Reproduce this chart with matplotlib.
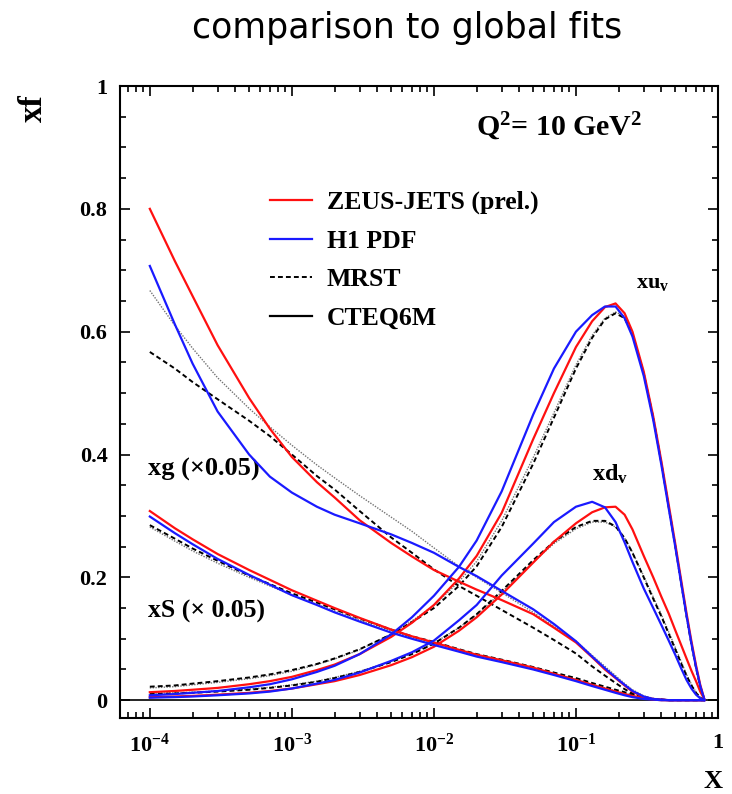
#!/usr/bin/env python
# -*- coding: utf-8 -*-
"""
Parton densities xf(x) at Q^2 = 10 GeV^2: ZEUS-JETS / H1 PDF vs. MRST and CTEQ6M.
Values read off the reference picture.
"""

import matplotlib

matplotlib.use("Agg")  # headless
import matplotlib.pyplot as plt
from matplotlib.lines import Line2D
from matplotlib.ticker import LogLocator, MultipleLocator, NullFormatter

plt.rcParams["font.family"] = ["Liberation Serif", "DejaVu Serif"]
plt.rcParams["font.weight"] = "bold"
plt.rcParams["mathtext.fontset"] = "custom"
plt.rcParams["mathtext.rm"] = "Liberation Serif:bold"
plt.rcParams["mathtext.it"] = "Liberation Serif:bold"
plt.rcParams["mathtext.bf"] = "Liberation Serif:bold"

# x grid shared by all curves
X = [1e-4, 1.5e-4, 2e-4, 3e-4, 5e-4, 7e-4, 1e-3, 1.5e-3, 2e-3, 3e-3, 5e-3, 7e-3,
     1e-2, 1.5e-2, 2e-2, 3e-2, 5e-2, 7e-2, 0.1, 0.13, 0.16, 0.19, 0.22, 0.25,
     0.3, 0.35, 0.4, 0.45, 0.5, 0.55, 0.6, 0.65, 0.7, 0.75, 0.8]

# xu_v
XUV_ZEUS = [0.013, 0.015, 0.017, 0.020, 0.026, 0.031, 0.038, 0.049, 0.058, 0.075, 0.103, 0.126,
            0.155, 0.198, 0.235, 0.305, 0.425, 0.50, 0.575, 0.617, 0.640, 0.646, 0.630, 0.600,
            0.535, 0.462, 0.388, 0.318, 0.255, 0.196, 0.142, 0.096, 0.057, 0.025, 0.002]
XUV_H1 = [0.008, 0.010, 0.012, 0.015, 0.021, 0.026, 0.034, 0.046, 0.056, 0.075, 0.107, 0.135,
          0.170, 0.217, 0.260, 0.340, 0.465, 0.540, 0.600, 0.627, 0.641, 0.641, 0.622, 0.592,
          0.528, 0.456, 0.382, 0.312, 0.250, 0.191, 0.138, 0.092, 0.054, 0.023, 0.002]
XUV_MRST = [0.022, 0.024, 0.027, 0.031, 0.037, 0.042, 0.049, 0.059, 0.068, 0.083, 0.107, 0.127,
            0.150, 0.186, 0.218, 0.282, 0.385, 0.460, 0.540, 0.590, 0.620, 0.630, 0.622, 0.596,
            0.532, 0.460, 0.385, 0.314, 0.251, 0.191, 0.137, 0.091, 0.053, 0.022, 0.002]
XUV_CTEQ = [0.020, 0.022, 0.025, 0.029, 0.035, 0.040, 0.047, 0.058, 0.067, 0.082, 0.108, 0.129,
            0.154, 0.193, 0.226, 0.292, 0.395, 0.468, 0.546, 0.594, 0.622, 0.632, 0.625, 0.598,
            0.533, 0.460, 0.385, 0.314, 0.251, 0.191, 0.137, 0.091, 0.053, 0.022, 0.002]

# xd_v
XDV_ZEUS = [0.005, 0.006, 0.007, 0.009, 0.012, 0.015, 0.019, 0.026, 0.031, 0.041, 0.057, 0.070,
            0.087, 0.113, 0.135, 0.172, 0.224, 0.258, 0.288, 0.306, 0.314, 0.315, 0.302, 0.278,
            0.235, 0.200, 0.168, 0.141, 0.114, 0.090, 0.068, 0.048, 0.031, 0.014, 0.002]
XDV_H1 = [0.004, 0.005, 0.006, 0.008, 0.011, 0.014, 0.019, 0.027, 0.033, 0.045, 0.064, 0.078,
          0.097, 0.130, 0.155, 0.203, 0.255, 0.290, 0.315, 0.323, 0.314, 0.290, 0.257, 0.225,
          0.182, 0.150, 0.122, 0.097, 0.074, 0.052, 0.033, 0.019, 0.009, 0.003, 0.000]
XDV_MRST = [0.010, 0.011, 0.012, 0.014, 0.017, 0.020, 0.024, 0.030, 0.036, 0.046, 0.062, 0.075,
            0.092, 0.118, 0.140, 0.178, 0.228, 0.258, 0.282, 0.292, 0.292, 0.283, 0.264, 0.240,
            0.200, 0.165, 0.136, 0.108, 0.083, 0.060, 0.040, 0.024, 0.012, 0.004, 0.000]
XDV_CTEQ = [0.011, 0.012, 0.013, 0.015, 0.018, 0.021, 0.025, 0.031, 0.037, 0.047, 0.063, 0.076,
            0.093, 0.118, 0.139, 0.176, 0.225, 0.255, 0.279, 0.290, 0.290, 0.282, 0.264, 0.241,
            0.202, 0.168, 0.139, 0.111, 0.086, 0.063, 0.042, 0.026, 0.013, 0.005, 0.000]

# xS (x 0.05)
XS_ZEUS = [0.308, 0.280, 0.262, 0.238, 0.212, 0.196, 0.179, 0.162, 0.150, 0.134, 0.115, 0.104,
           0.094, 0.082, 0.074, 0.065, 0.053, 0.043, 0.033, 0.025, 0.019, 0.014, 0.010, 0.007,
           0.003, 0.001, 0.0, 0.0, 0.0, 0.0, 0.0, 0.0, 0.0, 0.0, 0.0]
XS_H1 = [0.299, 0.272, 0.254, 0.230, 0.204, 0.188, 0.171, 0.155, 0.143, 0.128, 0.110, 0.100,
         0.090, 0.079, 0.071, 0.062, 0.050, 0.041, 0.031, 0.023, 0.017, 0.012, 0.008, 0.005,
         0.002, 0.001, 0.0, 0.0, 0.0, 0.0, 0.0, 0.0, 0.0, 0.0, 0.0]
XS_MRST = [0.285, 0.263, 0.247, 0.227, 0.203, 0.189, 0.174, 0.159, 0.148, 0.133, 0.115, 0.104,
           0.095, 0.083, 0.075, 0.066, 0.054, 0.045, 0.036, 0.028, 0.022, 0.017, 0.013, 0.009,
           0.005, 0.002, 0.001, 0.0, 0.0, 0.0, 0.0, 0.0, 0.0, 0.0, 0.0]
XS_CTEQ = [0.282, 0.259, 0.243, 0.223, 0.200, 0.186, 0.171, 0.156, 0.145, 0.130, 0.113, 0.102,
           0.093, 0.081, 0.073, 0.064, 0.052, 0.043, 0.034, 0.026, 0.020, 0.015, 0.011, 0.008,
           0.004, 0.002, 0.001, 0.0, 0.0, 0.0, 0.0, 0.0, 0.0, 0.0, 0.0]

# xg (x 0.05)
XG_ZEUS = [0.800, 0.715, 0.658, 0.578, 0.492, 0.442, 0.396, 0.355, 0.330, 0.293, 0.256, 0.234,
           0.212, 0.193, 0.180, 0.163, 0.140, 0.118, 0.094, 0.070, 0.050, 0.036, 0.024, 0.014,
           0.005, 0.002, 0.001, 0.0, 0.0, 0.0, 0.0, 0.0, 0.0, 0.0, 0.0]
XG_H1 = [0.707, 0.612, 0.548, 0.470, 0.400, 0.364, 0.338, 0.315, 0.302, 0.288, 0.270, 0.256,
         0.240, 0.217, 0.202, 0.178, 0.148, 0.124, 0.096, 0.071, 0.052, 0.037, 0.025, 0.015,
         0.006, 0.002, 0.001, 0.0, 0.0, 0.0, 0.0, 0.0, 0.0, 0.0, 0.0]
XG_MRST = [0.567, 0.540, 0.518, 0.490, 0.455, 0.430, 0.400, 0.365, 0.343, 0.308, 0.265, 0.240,
           0.213, 0.186, 0.170, 0.147, 0.118, 0.098, 0.076, 0.055, 0.040, 0.028, 0.018, 0.011,
           0.005, 0.002, 0.001, 0.0, 0.0, 0.0, 0.0, 0.0, 0.0, 0.0, 0.0]
XG_CTEQ = [0.667, 0.610, 0.573, 0.525, 0.475, 0.445, 0.415, 0.383, 0.362, 0.333, 0.298, 0.275,
           0.248, 0.218, 0.200, 0.175, 0.143, 0.120, 0.096, 0.073, 0.055, 0.040, 0.027, 0.017,
           0.007, 0.003, 0.001, 0.0, 0.0, 0.0, 0.0, 0.0, 0.0, 0.0, 0.0]

X_TICKS = [1e-4, 1e-3, 1e-2, 1e-1, 1.0]
X_TICK_LABELS = [r"$10^{-4}$", r"$10^{-3}$", r"$10^{-2}$", r"$10^{-1}$", "1"]
Y_TICKS = [0, 0.2, 0.4, 0.6, 0.8, 1.0]
Y_TICK_LABELS = ["0", "0.2", "0.4", "0.6", "0.8", "1"]

LEGEND_LABELS = ["ZEUS-JETS (prel.)", "H1 PDF", "MRST", "CTEQ6M"]

STYLES = {
    "ZEUS": dict(color="#ff1010", linewidth=1.6, linestyle="-"),
    "H1": dict(color="#1a1aff", linewidth=1.6, linestyle="-"),
    "MRST": dict(color="black", linewidth=1.4, linestyle=(0, (2.5, 1.6))),
    "CTEQ": dict(color="0.45", linewidth=1.0, linestyle=(0, (1, 1))),
}


def main():
    fig = plt.figure(figsize=(7.32, 7.94), dpi=100)
    ax = fig.add_axes([120 / 732, 1 - 718 / 794, 598 / 732, 632 / 794])

    groups = [
        (XUV_ZEUS, XUV_H1, XUV_MRST, XUV_CTEQ),
        (XDV_ZEUS, XDV_H1, XDV_MRST, XDV_CTEQ),
        (XS_ZEUS, XS_H1, XS_MRST, XS_CTEQ),
        (XG_ZEUS, XG_H1, XG_MRST, XG_CTEQ),
    ]
    # draw the global fits first so the ZEUS / H1 lines sit on top
    for zeus, h1, mrst, cteq in groups:
        ax.plot(X, cteq, zorder=3, **STYLES["CTEQ"])
        ax.plot(X, mrst, zorder=4, **STYLES["MRST"])
        ax.plot(X, zeus, zorder=5, **STYLES["ZEUS"])
        ax.plot(X, h1, zorder=6, **STYLES["H1"])

    ax.axhline(0, color="black", linewidth=1.2, zorder=2)

    ax.set_xscale("log")
    ax.set_xlim(10 ** -4.21, 1.0)
    ax.set_ylim(-0.029, 1.0)

    ax.set_xticks(X_TICKS, X_TICK_LABELS)
    ax.xaxis.set_minor_locator(LogLocator(base=10, subs=range(2, 10), numticks=20))
    ax.xaxis.set_minor_formatter(NullFormatter())
    ax.set_yticks(Y_TICKS, Y_TICK_LABELS)
    ax.yaxis.set_minor_locator(MultipleLocator(0.05))

    ax.tick_params(which="both", direction="in", top=True, right=True, width=1.2, labelsize=16)
    ax.tick_params(which="major", length=7)
    ax.tick_params(which="minor", length=4)
    ax.tick_params(axis="x", which="major", pad=11)
    ax.tick_params(axis="y", which="major", pad=9)
    for sp in ax.spines.values():
        sp.set_linewidth(1.5)

    # legend (CTEQ6M shown as plain solid line like in the original)
    handles = [
        Line2D([], [], color=STYLES["ZEUS"]["color"], linewidth=1.6),
        Line2D([], [], color=STYLES["H1"]["color"], linewidth=1.6),
        Line2D([], [], color="black", linewidth=1.4, linestyle=(0, (2.5, 1.6))),
        Line2D([], [], color="black", linewidth=1.6),
    ]
    ax.legend(handles, LEGEND_LABELS, loc="upper left", bbox_to_anchor=(0.251, 0.834),
              frameon=False, fontsize=18.5, handlelength=1.65, handletextpad=0.55,
              labelspacing=0.6, borderpad=0, borderaxespad=0)

    # curve labels
    ax.text(0.0198, 0.933, "Q$^2$= 10 GeV$^2$", fontsize=21.5, va="center", ha="left")
    ax.text(0.263, 0.679, r"xu$_\mathrm{v}$", fontsize=16, va="center", ha="left")
    ax.text(0.129, 0.368, r"xd$_\mathrm{v}$", fontsize=17.5, va="center", ha="left")
    ax.text(9.7e-5, 0.375, "xg (\u00d70.05)", fontsize=19, va="center", ha="left")
    ax.text(9.7e-5, 0.145, "xS (\u00d7 0.05)", fontsize=18.5, va="center", ha="left")

    # axis titles and page title
    fig.text(33 / 732, 1 - 108 / 794, "xf", fontsize=24, rotation=90, ha="center", va="center")
    fig.text(713 / 732, 1 - 782 / 794, "X", fontsize=19, ha="center", va="center")
    fig.text(407 / 732, 1 - 38 / 794, "comparison to global fits", fontsize=25,
             family="DejaVu Sans", weight="normal", ha="center", va="baseline")

    fig.savefig("out.png", dpi=100)
    plt.close(fig)


if __name__ == "__main__":
    main()
